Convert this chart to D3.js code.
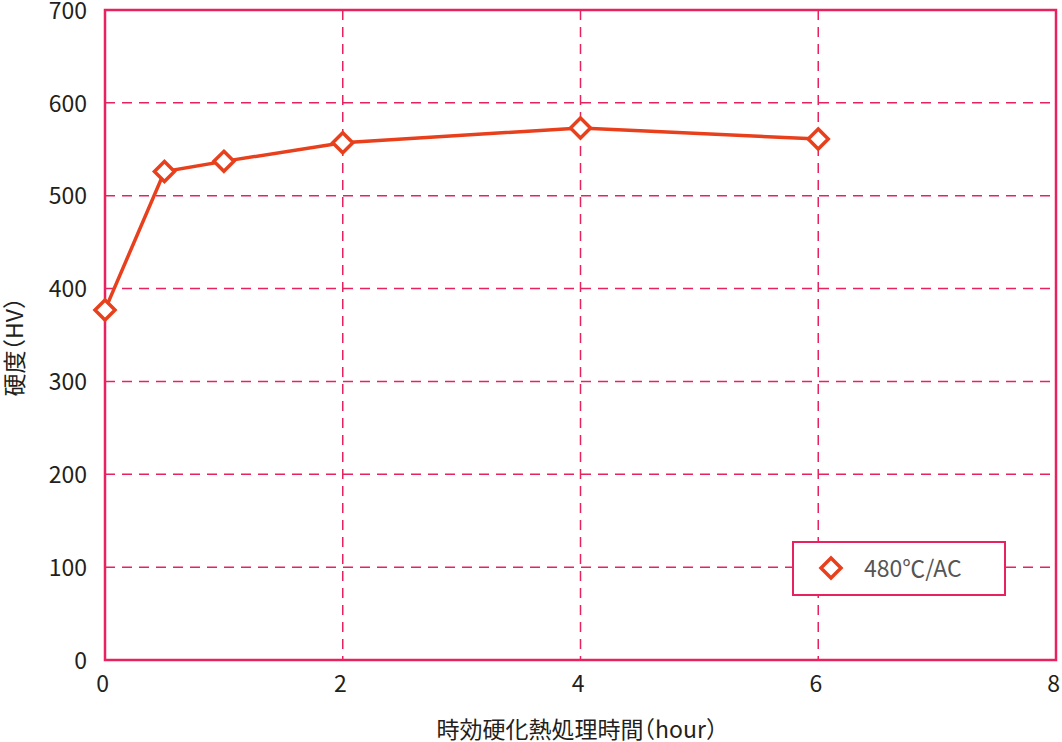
<!DOCTYPE html>
<html><head><meta charset="utf-8">
<script src="https://cdn.jsdelivr.net/npm/d3@7"></script>
<style>body{margin:0;background:#fff}svg{display:block}.t{font-feature-settings:"halt"}</style>
</head><body>
<svg id="c" width="1062" height="742"></svg>
<script>
const hours = [0, 0.5, 1, 2, 4, 6];
const hardness = [377, 526, 537, 557, 573, 561];
const xTicks = [0, 2, 4, 6, 8];
const yTicks = [0, 100, 200, 300, 400, 500, 600, 700];
const seriesName = "480℃/AC";
const xTitle = "時効硬化熱処理時間（hour）";
const yTitle = "硬度（HV）";

const W = 1062, H = 742;
const m = {l:105, r:1056, t:10, b:660};
const svg = d3.select("#c");
const x = d3.scaleLinear().domain([0, 8]).range([m.l, m.r]);
const y = d3.scaleLinear().domain([0, 700]).range([m.b, m.t]);
const pink = "#e8215f", orange = "#e8401c";
const font = "'Noto Sans CJK JP','Noto Sans',sans-serif";

// grid
svg.append("g").selectAll("line").data(yTicks.filter(d => d > 0 && d < 700)).join("line")
  .attr("x1", m.l).attr("x2", m.r).attr("y1", d => y(d)).attr("y2", d => y(d))
  .attr("stroke", pink).attr("stroke-width", 1.5).attr("stroke-dasharray", "10,7");
svg.append("g").selectAll("line").data(xTicks.filter(d => d > 0 && d < 8)).join("line")
  .attr("y1", m.t).attr("y2", m.b).attr("x1", d => x(d)).attr("x2", d => x(d))
  .attr("stroke", pink).attr("stroke-width", 1.5).attr("stroke-dasharray", "10,7");

// frame
svg.append("rect").attr("x", m.l).attr("y", m.t).attr("width", m.r - m.l).attr("height", m.b - m.t)
  .attr("fill", "none").attr("stroke", pink).attr("stroke-width", 2.5);

// axes labels via d3 axes
const ax = svg.append("g").attr("transform", `translate(0,${m.b})`)
  .call(d3.axisBottom(x).tickValues(xTicks).tickSize(0).tickPadding(16));
const ay = svg.append("g").attr("transform", `translate(${m.l},0)`)
  .call(d3.axisLeft(y).tickValues(yTicks).tickSize(0).tickPadding(18));
[ax, ay].forEach(g => {
  g.select(".domain").remove();
  g.selectAll("text").attr("font-family", font).attr("font-size", 23).attr("fill", "#231f20");
});
ay.selectAll("text").attr("dy", "0.36em");
ax.selectAll("text").attr("dx", -3);

// titles
svg.append("text").attr("class", "t").attr("x", 577).attr("y", 738).attr("text-anchor", "middle")
  .attr("font-family", font).attr("font-size", 23).attr("fill", "#231f20").text(xTitle);
svg.append("text").attr("class", "t").attr("transform", `translate(23,347) rotate(-90)`).attr("text-anchor", "middle")
  .attr("font-family", font).attr("font-size", 23).attr("fill", "#231f20").text(yTitle);

// line
const line = d3.line().x((d, i) => x(hours[i])).y(d => y(d));
svg.append("path").datum(hardness).attr("d", line).attr("fill", "none")
  .attr("stroke", orange).attr("stroke-width", 3.5);

const diamond = s => `M0,${-s}L${s},0L0,${s}L${-s},0Z`;
svg.append("g").selectAll("path").data(hardness).join("path")
  .attr("transform", (d, i) => `translate(${x(hours[i])},${y(d)})`)
  .attr("d", diamond(10)).attr("fill", "#fff").attr("stroke", orange).attr("stroke-width", 3.5);

// legend
const lg = svg.append("g");
lg.append("rect").attr("x", 793).attr("y", 542).attr("width", 212).attr("height", 53)
  .attr("fill", "#fff").attr("stroke", pink).attr("stroke-width", 2);
lg.append("path").attr("transform", "translate(831,568)").attr("d", diamond(10))
  .attr("fill", "#fff").attr("stroke", orange).attr("stroke-width", 3.5);
lg.append("text").attr("x", 864).attr("y", 577).attr("font-family", font).attr("font-size", 23)
  .attr("fill", "#555").text(seriesName);
</script>
</body></html>
